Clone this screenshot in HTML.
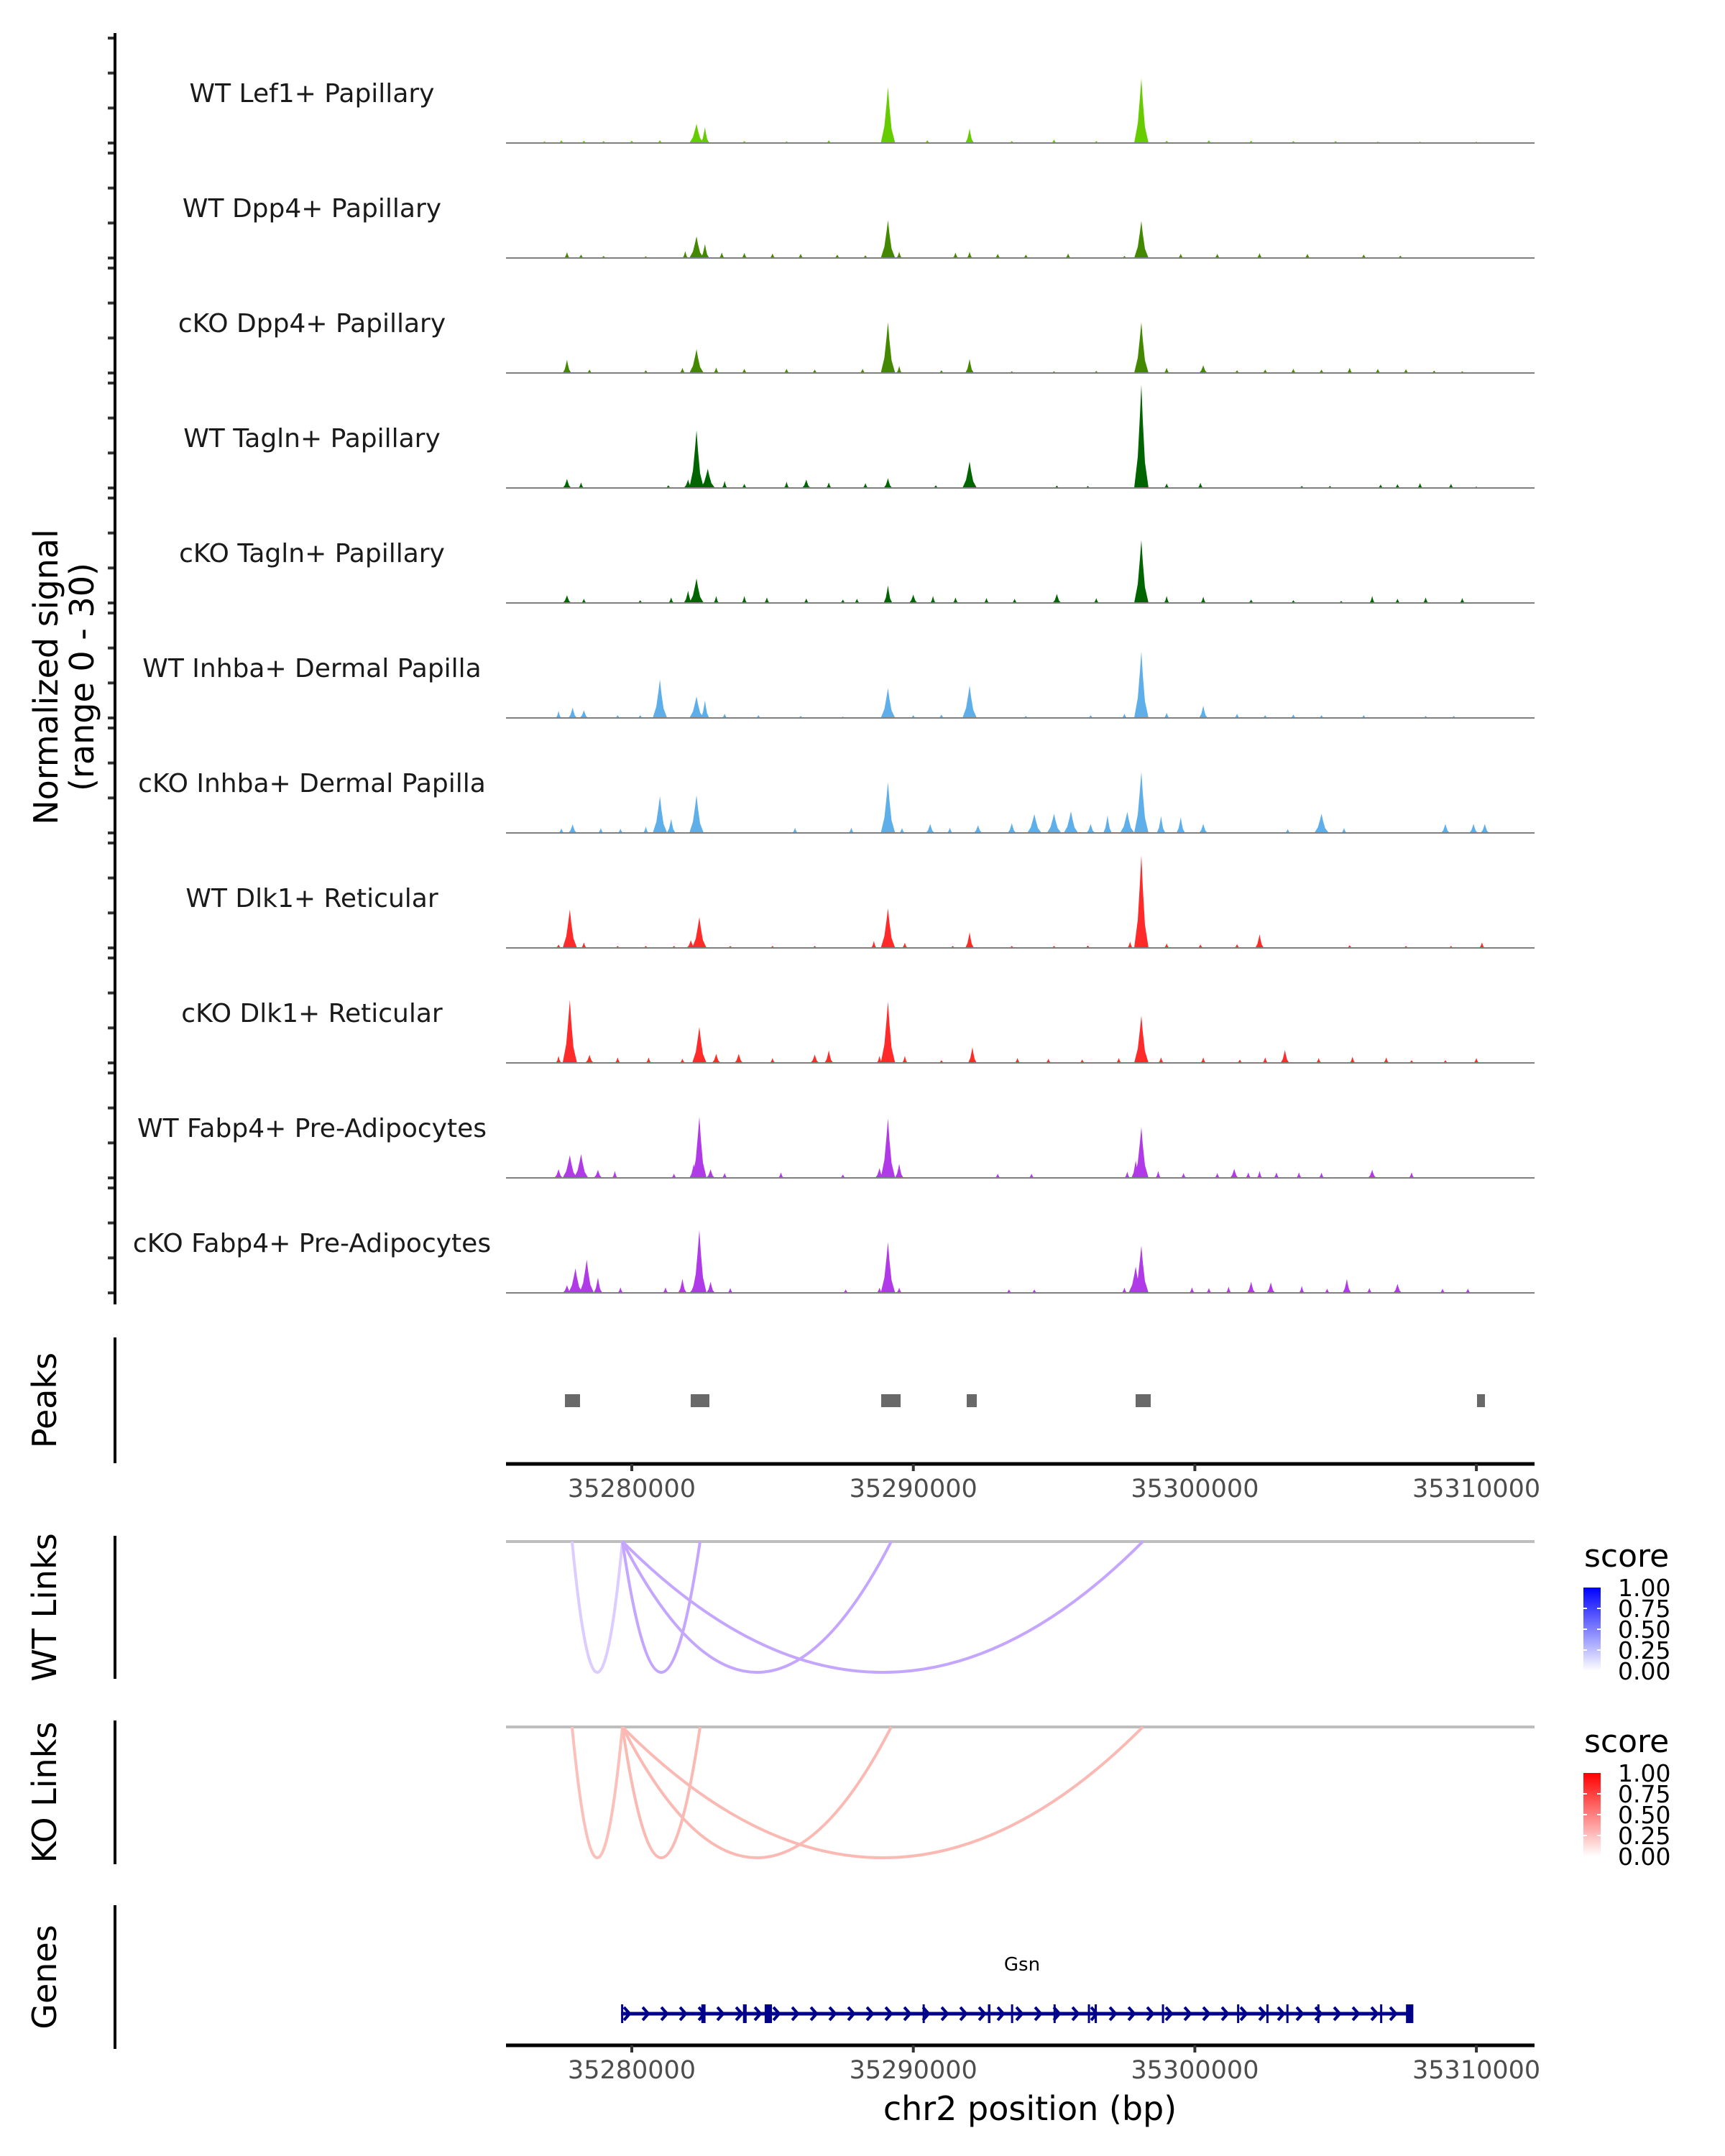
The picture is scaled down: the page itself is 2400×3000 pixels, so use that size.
<!DOCTYPE html>
<html><head><meta charset="utf-8">
<style>
html,body{margin:0;padding:0;background:#fff;}
svg{display:block;font-family:"DejaVu Sans","Liberation Sans",sans-serif;}
</style></head>
<body>
<svg id="chart" xmlns="http://www.w3.org/2000/svg" width="2400" height="3000" viewBox="0 0 2400 3000">
<rect width="2400" height="3000" fill="#fff"/>
<g id="signal"></g>
<g id="peaks"></g>
<g id="links"></g>
<g id="genes"></g>
<g id="axes"></g>
</svg>
<script>
// ---- data ----
const trackNames = ["WT Lef1+ Papillary","WT Dpp4+ Papillary","cKO Dpp4+ Papillary","WT Tagln+ Papillary","cKO Tagln+ Papillary","WT Inhba+ Dermal Papilla","cKO Inhba+ Dermal Papilla","WT Dlk1+ Reticular","cKO Dlk1+ Reticular","WT Fabp4+ Pre-Adipocytes","cKO Fabp4+ Pre-Adipocytes"];
const trackColors = ["#66cc00","#448800","#448800","#006400","#006400","#5eaeea","#5eaeea","#ff2a2a","#ff2a2a","#b03ae8","#b03ae8"];
// peak positions (bp) and heights (signal, 0-30) per track
const pos0 = [35276900,35277500,35278300,35279000,35280000,35281000,35282300,35282600,35284000,35285500,35287000,35289100,35290500,35292000,35293500,35295000,35296500,35298100,35299000,35300500,35302000,35303500,35305000,35306500,35308000,35310000];
const val0 = [0.5,0.8,0.7,0.6,0.7,0.8,5.5,4.5,0.6,0.5,0.8,16,0.8,4.2,0.6,1,0.6,18.5,0.7,0.8,0.7,0.6,0.6,0.4,0.4,0.4];
const pos1 = [35277700,35278200,35279000,35280500,35281900,35282300,35282600,35283200,35284000,35285000,35286000,35287300,35288300,35289100,35289500,35291500,35292000,35293000,35294000,35295500,35297500,35298100,35299500,35300800,35302300,35304000,35306000,35307300];
const val1 = [1.7,1,0.6,0.5,2,6.2,4,1.6,1.5,1.3,1.2,1,0.8,10.8,1.8,1.6,1.8,1.2,1,1.3,0.6,10.6,1.2,1.2,1.4,1.2,1,0.7];
const pos2 = [35277700,35278500,35280500,35281800,35282300,35283000,35284000,35285500,35286500,35288200,35289100,35289500,35291000,35292000,35293500,35295000,35296500,35298100,35299000,35300300,35301500,35302500,35303500,35304500,35305500,35306500,35307500,35308500,35309500];
const val2 = [3.8,1,0.8,1.5,6.8,1.6,1.2,1.2,1,1.2,14.5,2,0.8,4,0.5,0.5,0.6,14.5,1.5,2.2,0.8,1,1.2,1,1.5,1.2,1.1,0.7,0.5];
const pos3 = [35277700,35278200,35281300,35282000,35282300,35282700,35283300,35284000,35285500,35286200,35287000,35288300,35289100,35290800,35292000,35295100,35296200,35298100,35299000,35300200,35303800,35304800,35306600,35307200,35308000,35309100,35310000];
const val3 = [2.6,1.6,0.8,2.4,16.5,5.5,2,1.2,1.8,2.4,1.6,1.4,2.8,0.8,7.6,0.7,0.6,29.5,1.3,1.5,0.6,0.6,1,1.1,1.4,1.2,0.4];
const pos4 = [35277700,35278300,35280300,35281400,35282000,35282300,35283000,35284000,35284800,35286200,35287500,35288000,35289100,35290000,35290700,35291500,35292600,35293600,35295100,35296500,35298100,35299000,35300300,35302000,35303500,35305200,35306300,35307200,35308200,35309500];
const val4 = [2.2,1.2,0.8,1.6,3.5,7,2,2,1.6,1.3,1,1.2,5,2.4,2,1.6,1.4,1.2,2.6,1.4,18,2,1.8,1,0.8,0.6,2,1.2,1.6,1.4];
const pos5 = [35277400,35277900,35278300,35279500,35280300,35281000,35282300,35282600,35283300,35284500,35286000,35287500,35289100,35290000,35291000,35292000,35294000,35296300,35297500,35298100,35299000,35300300,35301500,35302500,35303500,35304500,35306000,35308200,35309200];
const val5 = [2,3,2.2,0.8,0.8,11,6.2,5,1.2,0.8,0.6,0.4,8.5,0.8,1,9.3,0.6,0.8,1.2,19,1.5,3.5,1.2,0.8,1,0.8,0.8,0.6,0.6];
const pos6 = [35277500,35277900,35278900,35279600,35280500,35281000,35281400,35282300,35285800,35287800,35289100,35289600,35290600,35291300,35292300,35293500,35294300,35295000,35295600,35296300,35296900,35297600,35298100,35298800,35299500,35300300,35303300,35304500,35305300,35308900,35309900,35310300];
const val6 = [1.3,2.5,1.4,1.2,1.8,10.5,4,10.8,1.5,1.5,14.5,1.4,2.6,1.5,2.2,2.8,5.4,5.5,6.2,2.6,5,6,17.5,4.8,4.5,2.6,1.1,5.5,1.4,2.6,2.6,2.6];
const pos7 = [35277400,35277800,35278300,35279500,35280500,35281500,35282100,35282400,35283500,35285000,35286500,35288600,35289100,35289700,35291400,35292000,35293500,35295000,35296200,35297700,35298100,35299000,35300200,35301500,35302300,35305500,35307500,35309100,35310200];
const val7 = [1,11,1.6,0.6,0.6,0.6,2.2,8.8,0.6,0.6,0.6,2,11.3,1.5,0.6,4.5,0.6,0.6,0.7,1.8,26.5,1.3,1,1.1,3.9,0.8,0.6,0.6,1.6];
const pos8 = [35277400,35277800,35278500,35279500,35280600,35281800,35282400,35283000,35283800,35285000,35286500,35287000,35288800,35289100,35289700,35291000,35292100,35293700,35294800,35296000,35297300,35298100,35298800,35300300,35301600,35302500,35303200,35304400,35305600,35306800,35307700,35308900,35310000];
const val8 = [2,18,2.3,1.6,1.6,1.2,10.3,2.6,2.6,1.4,2.4,3.6,2,17.5,2,0.8,4.5,1.4,1.2,1,1.4,13.5,1.6,1.6,1,1.6,3.7,1.4,1.8,1.6,0.8,0.8,1.4];
const pos9 = [35277400,35277800,35278200,35278800,35279400,35281500,35282200,35282400,35282800,35283300,35285300,35287500,35288800,35289100,35289500,35293000,35294200,35297600,35297900,35298100,35298700,35299600,35300800,35301400,35301900,35302300,35302900,35303700,35304500,35306300,35307700];
const val9 = [2.5,6.5,6.8,2.3,2,1.2,4,17.5,2.5,1.4,1.6,1,2.8,17,4,1.2,1.2,1.8,5,14.5,2,1.4,1.4,2.6,1.6,2,1.6,1.6,1.5,2.3,1.6];
const pos10 = [35277700,35278000,35278400,35278800,35279600,35281200,35281800,35282200,35282400,35282800,35283500,35287600,35288800,35289100,35289500,35293400,35294300,35297500,35297900,35298100,35299900,35300500,35301200,35302000,35302700,35303800,35304700,35305400,35306200,35307200,35308800,35309700];
const val10 = [2.2,7,9.5,4.4,1.6,1.6,4,2.2,18,3.2,1.4,1,1.5,14.5,1.5,1,1,1.5,7.5,13.5,1.6,1.4,1.8,3.2,3,2,1.2,4,1.4,2.6,1.2,1.2];
const series = [[pos0,val0],[pos1,val1],[pos2,val2],[pos3,val3],[pos4,val4],[pos5,val5],[pos6,val6],[pos7,val7],[pos8,val8],[pos9,val9],[pos10,val10]];

const peakStarts = [35277626,35282093,35288859,35291897,35297896,35310023];
const peakEnds   = [35278162,35282757,35289548,35292254,35298433,35310304];

const linkStarts = [35277880,35279668,35279668,35279668];
const linkEnds   = [35279668,35282425,35289216,35298152];
const wtScores   = [0.2,0.35,0.35,0.35];
const koScores   = [0.27,0.3,0.3,0.3];

const geneStart = 35279620, geneEnd = 35307700;
const exonStarts = [35279620,35282470,35283950,35284720,35290330,35292650,35293470,35294980,35296200,35296440,35298830,35301500,35302540,35303250,35304350,35306580,35307500];
const exonEnds   = [35279660,35282620,35284080,35284980,35290400,35292740,35293520,35295030,35296270,35296520,35298890,35301550,35302600,35303320,35304410,35306620,35307760];

const xTicks = [35280000,35290000,35300000,35310000];
const yTicks = [0,10,20,30];

// ---- scales ----
const X0 = 704, X1 = 2135;
function xs(bp){ return 879 + (bp - 35280000) * 0.03917; }
const base0 = 199, trackStep = 160, yMax = 30, trackH = 146;
function ys(i, v){ return base0 + trackStep * i - (v / yMax) * trackH; }

const NS = "http://www.w3.org/2000/svg";
function mk(tag, attrs, parent){
  const e = document.createElementNS(NS, tag);
  for (const k in attrs) e.setAttribute(k, attrs[k]);
  parent.appendChild(e);
  return e;
}
const gSig = document.getElementById("signal");
const gAx = document.getElementById("axes");

series.forEach((s, i) => {
  const base = ys(i, 0);
  const g = mk("g", {}, gSig);
  
  
  const lbl = mk("text", {x: 434, y: base - 57, "font-size": 36, "text-anchor": "middle", fill: "#1a1a1a"}, g);
  lbl.textContent = trackNames[i];
  
  
  const [ps, vs] = s;
  ps.forEach((p, j) => {
    const x = xs(p), top = ys(i, vs[j]);
    const h = base - top;
    const w = vs[j] > 5 ? 10 : (vs[j] > 2 ? 6 : 4);
    const d = `M${x-w},${base} L${x-w*0.5},${base-h*0.3} L${x-w*0.2},${base-h*0.7} L${x},${top} L${x+w*0.2},${base-h*0.65} L${x+w*0.5},${base-h*0.25} L${x+w},${base} Z`;
    const m = mk("path", {d: d, fill: trackColors[i]}, g);
    
    
  });
  const bl = mk("line", {x1: X0, x2: X1, y1: base, y2: base, stroke: "#7f7f7f", "stroke-width": 2}, g);
  
  
  yTicks.forEach(t => {
    const ty = ys(i, t);
    const tk = mk("line", {x1: 150, x2: 158, y1: ty, y2: ty, stroke: "#333", "stroke-width": 4}, gAx);
    
    
  });
});

const yAx = mk("line", {x1: 160, x2: 160, y1: 46, y2: 1815, stroke: "#000", "stroke-width": 4}, gAx);


const yt = mk("text", {transform: "translate(80,942) rotate(-90)", "font-size": 46, "text-anchor": "middle", fill: "#000"}, gAx);


const t1 = mk("tspan", {x: 0, dy: 0}, yt); t1.textContent = "Normalized signal";
const t2 = mk("tspan", {x: 0, dy: 50}, yt); t2.textContent = "(range 0 - 30)";

const panels = [["Peaks",1861,2036],["WT Links",2137,2336],["KO Links",2394,2594],["Genes",2651,2851]];
panels.forEach(p => {
  const l = mk("line", {x1: 160, x2: 160, y1: p[1], y2: p[2], stroke: "#000", "stroke-width": 4}, gAx);
  
  
  const c = (p[1] + p[2]) / 2;
  const t = mk("text", {transform: `translate(78,${c}) rotate(-90)`, "font-size": 46, "text-anchor": "middle", fill: "#000"}, gAx);
  t.textContent = p[0];
  
  
});

const gPk = document.getElementById("peaks");
peakStarts.forEach((s, i) => {
  const r = mk("rect", {x: xs(s), y: 1940, width: xs(peakEnds[i]) - xs(s), height: 18, fill: "#696969"}, gPk);
  
  
});

function xAxis(y, name){
  const l = mk("line", {x1: X0, x2: X1, y1: y, y2: y, stroke: "#000", "stroke-width": 5}, gAx);
  
  
  xTicks.forEach(t => {
    const tk = mk("line", {x1: xs(t), x2: xs(t), y1: y, y2: y + 10, stroke: "#333", "stroke-width": 4}, gAx);
    
    
    const tl = mk("text", {x: xs(t), y: y + 46, "font-size": 35, "text-anchor": "middle", fill: "#4d4d4d"}, gAx);
    tl.textContent = String(t);
    
    
  });
}
xAxis(2037, 'peaks-x-axis');
xAxis(2846, 'genes-x-axis');
const xt = mk("text", {x: 1433, y: 2950, "font-size": 46, "text-anchor": "middle", fill: "#000"}, gAx);
xt.textContent = "chr2 position (bp)";



const gLk = document.getElementById("links");
function scoreColor(s, rgb){
  const r = Math.round(255 + (rgb[0]-255)*s), g = Math.round(255 + (rgb[1]-255)*s), b = Math.round(255 + (rgb[2]-255)*s);
  return `rgb(${r},${g},${b})`;
}
function linkPanel(base, scores, arcRgb, rgb, name, legendTop){
  const bl = mk("line", {x1: X0, x2: X1, y1: base, y2: base, stroke: "#bebebe", "stroke-width": 4}, gLk);
  
  
  linkStarts.forEach((s, i) => {
    const a = xs(s), b = xs(linkEnds[i]);
    const d = `M${a},${base} Q${(a+b)/2},${base + 364} ${b},${base}`;
    const p = mk("path", {d: d, fill: "none", stroke: scoreColor(scores[i], arcRgb), "stroke-width": 4}, gLk);
    
    
  });
  const lg = mk("g", {}, gLk);
  
  
  const st = mk("text", {x: 2204, y: legendTop, "font-size": 44, fill: "#000"}, lg);
  st.textContent = "score";
  const gid = name + "-grad";
  const defs = mk("defs", {}, lg);
  const gr = mk("linearGradient", {id: gid, x1: 0, y1: 1, x2: 0, y2: 0}, defs);
  mk("stop", {offset: 0, "stop-color": "#ffffff"}, gr);
  mk("stop", {offset: 1, "stop-color": `rgb(${rgb[0]},${rgb[1]},${rgb[2]})`}, gr);
  const by = legendTop + 29;
  mk("rect", {x: 2203, y: by, width: 24, height: 116, fill: `url(#${gid})`}, lg);
  ["1.00","0.75","0.50","0.25","0.00"].forEach((t, k) => {
    const yy = by + k * 29;
    if (k > 0 && k < 4) {
      mk("line", {x1: 2203, x2: 2208, y1: yy, y2: yy, stroke: "#fff", "stroke-width": 2}, lg);
      mk("line", {x1: 2222, x2: 2227, y1: yy, y2: yy, stroke: "#fff", "stroke-width": 2}, lg);
    }
    const tt = mk("text", {x: 2251, y: yy + 12, "font-size": 33, fill: "#000"}, lg);
    tt.textContent = t;
  });
}
linkPanel(2145, wtScores, [86,0,255], [0,0,255], 'wt-links', 2180);
linkPanel(2403, koScores, [240,20,0], [255,0,0], 'ko-links', 2438);

const gGn = document.getElementById("genes");
const gy = 2802;
const gl = mk("line", {x1: xs(geneStart), x2: xs(geneEnd), y1: gy, y2: gy, stroke: "#00008b", "stroke-width": 5}, gGn);


for (let x = xs(geneStart) + 4; x < xs(geneEnd) - 8; x += 26) {
  const ar = mk("path", {d: `M${x},${gy-9} L${x+8},${gy} L${x},${gy+9}`, fill: "none", stroke: "#00008b", "stroke-width": 4}, gGn);
  
  
}
exonStarts.forEach((s, i) => {
  const w = Math.max(3, xs(exonEnds[i]) - xs(s));
  const r = mk("rect", {x: xs(s), y: gy - 13, width: w, height: 26, fill: "#00008b"}, gGn);
  
  
});
const gn = mk("text", {x: 1422, y: 2742, "font-size": 26, "text-anchor": "middle", fill: "#000"}, gGn);
gn.textContent = "Gsn";


</script>
</body></html>
